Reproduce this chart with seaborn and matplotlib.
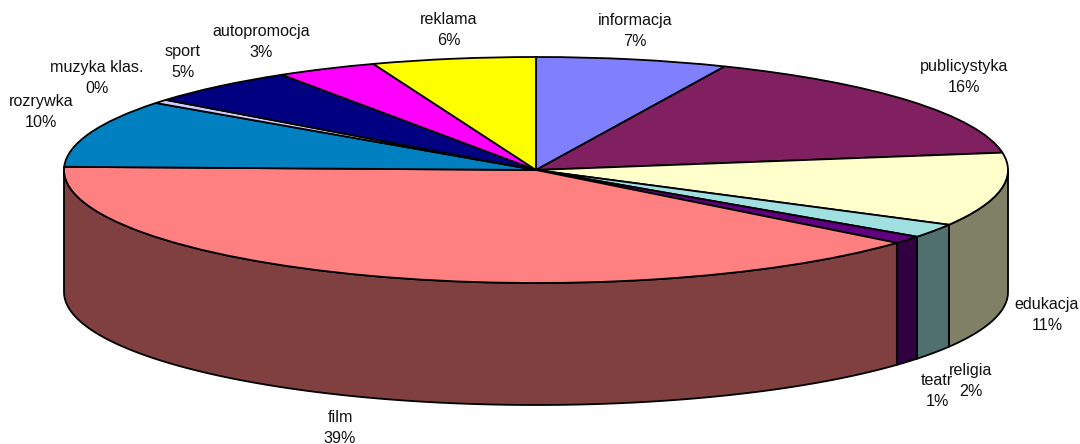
import numpy as np
import matplotlib.pyplot as plt
import seaborn as sns

# clockwise from 12 o'clock
categories = ["informacja", "publicystyka", "edukacja", "religia", "teatr", "film",
              "rozrywka", "muzyka klas.", "sport", "autopromocja", "reklama"]
values = [6.55, 16.0, 10.5, 2.0, 1.1, 39.3, 9.65, 0.55, 5.3, 3.45, 5.6]
percent_labels = ["7%", "16%", "11%", "2%", "1%", "39%", "10%", "0%", "5%", "3%", "6%"]
top_colors = ["#8080FF", "#802060", "#FFFFCC", "#A0E0E0", "#600080", "#FF8080",
              "#0080C0", "#CCCCFF", "#000080", "#FF00FF", "#FFFF00"]

# label centres in pixels of the 1080x444 picture
label_pos = [(635, 31), (964, 77), (1047, 315), (971, 381), (937, 391), (340, 428),
             (41, 112), (97, 78), (183, 62), (261, 42), (449, 30)]

W, H = 1080, 444
CX, CY = 536, 170
RX, RY = 472, 113
DEPTH = 122 / RY

sns.set_theme(style="white")
plt.rcParams["font.family"] = ["Liberation Sans", "DejaVu Sans"]

fig = plt.figure(figsize=(W / 100, H / 100), dpi=100, facecolor="white")
ax = fig.add_axes([0, 0, 1, 1])


def darker(col):
    return tuple(c * 0.5 for c in plt.matplotlib.colors.to_rgb(col))


# side wall, one piece per slice, only the front half of the rim is visible
edges = np.concatenate([[0], np.cumsum(values)]) / np.sum(values) * 2 * np.pi
for i, col in enumerate(top_colors):
    lo = max(edges[i], np.pi / 2)
    hi = min(edges[i + 1], 3 * np.pi / 2)
    if hi <= lo:
        continue
    t = np.linspace(lo, hi, 120)
    x = np.sin(t)
    y = np.cos(t)
    ax.fill(np.r_[x, x[::-1]], np.r_[y, y[::-1] - DEPTH], facecolor=darker(col),
            edgecolor="black", linewidth=1.3, zorder=1)

# top face, the axes has no equal aspect so the pie comes out as an ellipse
ax.pie(values, colors=top_colors, startangle=90, counterclock=False, radius=1,
       wedgeprops=dict(edgecolor="black", linewidth=1.3, zorder=2))
ax.set_aspect("auto")
ax.set_xlim(-CX / RX, (W - CX) / RX)
ax.set_ylim(-(H - CY) / RY, CY / RY)
ax.set_axis_off()

for name, pct, (px, py) in zip(categories, percent_labels, label_pos):
    ax.text((px - CX) / RX, (CY - py) / RY, name + "\n" + pct, ha="center", va="center",
            fontsize=11.6, color="#111111", linespacing=1.42, zorder=5)

fig.savefig("out.png", dpi=100, facecolor="white")
